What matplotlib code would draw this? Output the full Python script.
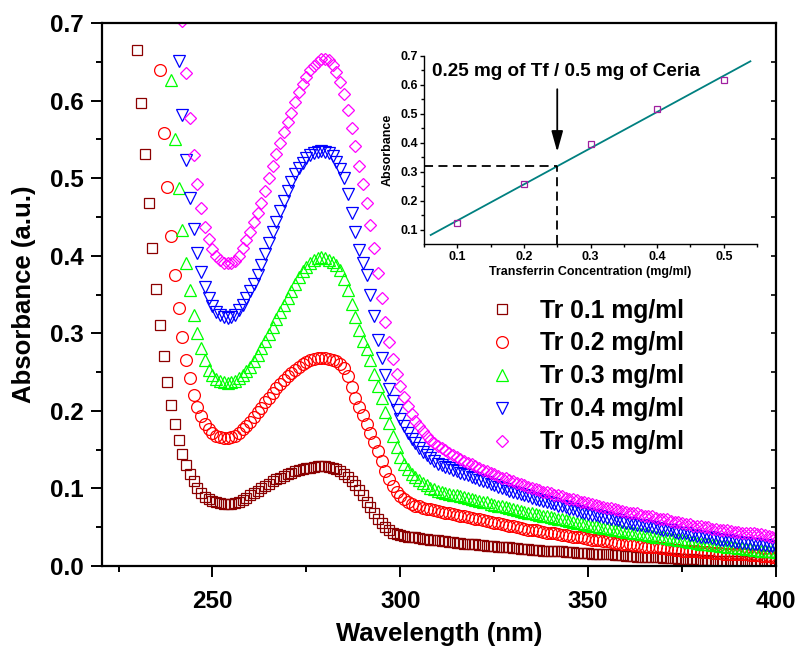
import numpy as np
import matplotlib
matplotlib.use('Agg')
import matplotlib.pyplot as plt

plt.rcParams['font.family'] = ['Liberation Sans', 'DejaVu Sans']
plt.rcParams['font.weight'] = 'bold'

# ---- UV-vis spectra (absorbance per nm) ----
labels = ['Tr 0.1 mg/ml', 'Tr 0.2 mg/ml', 'Tr 0.3 mg/ml', 'Tr 0.4 mg/ml', 'Tr 0.5 mg/ml']
start_nm = [230, 236, 239, 241, 242]

tr01 = [.665, .597, .531, .468, .410, .357, .311, .271, .237, .207,
        .183, .162, .145, .130, .119, .109, .100, .094, .089, .086,
        .084, .082, .081, .080, .080, .080, .081, .083, .085, .088,
        .091, .094, .097, .100, .103, .106, .109, .112, .114, .116,
        .118, .120, .122, .124, .125, .126, .127, .128, .129, .129,
        .129, .128, .127, .125, .122, .119, .115, .110, .104, .098,
        .091, .083, .076, .068, .061, .055, .050, .046, .043, .041,
        .040, .039, .038, .037, .037, .036, .035, .035, .034, .033,
        .033, .032, .032, .031, .031, .030, .030, .029, .029, .028,
        .028, .027, .027, .026, .026, .026, .025, .025, .024, .024,
        .023, .023, .022, .022, .022, .021, .021, .021, .020, .020,
        .020, .019, .019, .019, .018, .018, .018, .017, .017, .017,
        .017, .016, .016, .016, .015, .015, .015, .014, .014, .014,
        .013, .013, .013, .012, .012, .012, .011, .011, .011, .011,
        .010, .010, .010, .010, .009, .009, .009, .009, .009, .008,
        .008, .008, .008, .007, .007, .007, .007, .007, .006, .006,
        .006, .006, .006, .006, .006, .005, .005, .005, .005, .005,
        .005]

tr02 = [.639, .558, .488, .426,
        .375, .332, .295, .265, .242, .220, .205, .193, .183, .176,
        .171, .168, .166, .165, .165, .166, .168, .172, .176, .181,
        .186, .192, .198, .204, .211, .217, .223, .229, .235, .240,
        .245, .249, .253, .257, .260, .263, .265, .267, .268, .268,
        .268, .267, .266, .264, .261, .255, .245, .231, .217, .205,
        .195, .183, .171, .160, .148, .135, .122, .112, .103, .096,
        .090, .086, .083, .080, .078, .077, .075, .074, .073, .072,
        .071, .070, .069, .068, .067, .066, .065, .064, .063, .062,
        .061, .060, .059, .058, .057, .056, .055, .054, .053, .052,
        .051, .050, .049, .048, .047, .046, .046, .045, .044, .043,
        .043, .042, .041, .040, .040, .039, .038, .037, .037, .036,
        .035, .034, .034, .033, .032, .032, .031, .030, .030, .029,
        .028, .028, .027, .027, .026, .025, .025, .024, .024, .023,
        .023, .022, .022, .021, .021, .020, .020, .019, .019, .019,
        .018, .018, .018, .017, .017, .017, .016, .016, .016, .015,
        .015, .015, .015, .014, .014, .014, .013, .013, .013, .012,
        .012]

tr03 = [.626,
        .551, .487, .433, .390, .356, .323, .300, .281, .265, .253,
        .246, .241, .238, .237, .236, .237, .239, .242, .246, .251,
        .257, .264, .272, .281, .290, .299, .308, .318, .328, .337,
        .346, .355, .364, .372, .380, .386, .391, .395, .397, .398,
        .397, .395, .392, .388, .381, .370, .356, .338, .321, .304,
        .290, .280, .266, .248, .232, .216, .199, .184, .168, .153,
        .141, .132, .125, .119, .115, .111, .107, .104, .101, .099,
        .097, .096, .094, .093, .092, .091, .090, .089, .088, .087,
        .085, .084, .083, .082, .080, .079, .078, .077, .076, .075,
        .074, .072, .071, .070, .069, .068, .067, .066, .065, .064,
        .063, .062, .061, .060, .059, .058, .057, .056, .055, .054,
        .053, .052, .051, .050, .049, .049, .048, .047, .046, .045,
        .044, .044, .043, .042, .041, .041, .040, .039, .038, .038,
        .037, .036, .035, .035, .034, .033, .032, .031, .031, .030,
        .029, .029, .028, .027, .027, .026, .026, .025, .025, .024,
        .023, .023, .022, .022, .021, .021, .020, .020, .019, .019,
        .018]

tr04 = [.651, .581, .523, .474, .435, .403, .379, .360, .346,
        .335, .328, .324, .321, .320, .321, .324, .330, .337, .345,
        .354, .364, .375, .388, .402, .416, .430, .444, .458, .471,
        .484, .495, .505, .513, .520, .526, .530, .533, .534, .535,
        .534, .532, .528, .521, .512, .500, .480, .455, .430, .408,
        .390, .375, .350, .322, .292, .268, .246, .228, .213, .201,
        .190, .181, .172, .164, .158, .152, .147, .143, .139, .135,
        .132, .130, .128, .126, .124, .122, .120, .118, .117, .115,
        .113, .111, .110, .108, .106, .104, .102, .101, .099, .097,
        .096, .094, .093, .091, .090, .088, .087, .085, .084, .082,
        .081, .080, .078, .077, .076, .074, .073, .071, .070, .069,
        .067, .066, .066, .064, .063, .062, .061, .060, .059, .057,
        .056, .056, .054, .053, .053, .052, .051, .050, .049, .048,
        .047, .046, .046, .044, .043, .042, .042, .040, .040, .039,
        .038, .037, .037, .036, .035, .034, .034, .033, .032, .031,
        .031, .030, .030, .029, .029, .028, .027, .027, .026, .026,
        .025]

tr05 = [.703, .635, .577, .530, .492, .461, .437, .421,
        .409, .400, .394, .391, .390, .391, .393, .400, .410, .420,
        .431, .443, .455, .468, .484, .500, .516, .531, .545, .559,
        .572, .584, .598, .611, .622, .631, .639, .645, .650, .653,
        .654, .652, .646, .637, .624, .608, .588, .565, .541, .516,
        .492, .468, .440, .410, .378, .345, .315, .289, .267, .248,
        .232, .218, .206, .196, .187, .180, .174, .168, .163, .159,
        .155, .152, .149, .146, .143, .141, .138, .136, .133, .131,
        .129, .127, .124, .122, .120, .118, .116, .114, .113, .111,
        .109, .107, .106, .104, .102, .101, .099, .098, .096, .095,
        .094, .092, .091, .090, .088, .087, .086, .085, .083, .082,
        .081, .080, .079, .077, .076, .075, .075, .073, .072, .071,
        .070, .069, .068, .068, .066, .065, .064, .064, .062, .061,
        .060, .060, .058, .057, .057, .055, .054, .054, .052, .052,
        .051, .050, .050, .048, .048, .047, .046, .046, .045, .044,
        .044, .043, .043, .042, .042, .041, .041, .040, .039, .038,
        .038]

spectra = [tr01, tr02, tr03, tr04, tr05]

# ---- inset: calibration ----
conc = [0.1, 0.2, 0.3, 0.4, 0.5]
conc_abs = [0.123, 0.257, 0.397, 0.517, 0.617]
tf_loaded = 0.25

colors = ['#8B0000', '#FF0000', '#00FF00', '#0000FF', '#FF00FF']
markers = ['s', 'o', '^', 'v', 'D']
msizes = [7, 8.5, 8.5, 8.5, 6.3]

fig = plt.figure(figsize=(7.99, 6.48), dpi=100)
ax = fig.add_axes([0.1277, 0.1265, 0.8436, 0.838])

for vals, s, c, m, ms, lab in zip(spectra, start_nm, colors, markers, msizes, labels):
    wl = np.arange(s, s + len(vals))
    ax.plot(wl, vals, linestyle='none', marker=m, ms=ms, mfc='none', mec=c,
            mew=0.9, label=lab)

ax.set_xlim(220.6, 400)
ax.set_ylim(0, 0.7)
ax.set_xticks([250, 300, 350, 400])
ax.set_xticks([225, 275, 325, 375], minor=True)
ax.set_yticks(np.arange(0, 0.71, 0.1))
ax.set_yticks(np.arange(0.05, 0.7, 0.1), minor=True)
ax.set_yticklabels(['%.1f' % v for v in np.arange(0, 0.71, 0.1)])
ax.tick_params(which='major', direction='out', length=8, width=1.4,
               labelsize=17.5)
ax.tick_params(axis='x', which='major', pad=9)
ax.tick_params(axis='y', which='major', pad=5)
ax.tick_params(which='minor', direction='out', length=4.5, width=1.4)
for sp in ax.spines.values():
    sp.set_linewidth(1.6)
ax.set_xlabel('Wavelength (nm)', fontsize=18.5, fontweight='bold', labelpad=7)
ax.set_ylabel('Absorbance (a.u.)', fontsize=18.5, fontweight='bold', labelpad=10)

# inward ticks on the right spine
axr = ax.twinx()
axr.set_ylim(0, 0.7)
axr.set_yticks(np.arange(0, 0.71, 0.1))
axr.set_yticks(np.arange(0.05, 0.7, 0.1), minor=True)
axr.tick_params(which='both', direction='in', length=3.5, width=1.2,
                labelright=False)
for sp in axr.spines.values():
    sp.set_visible(False)

leg = ax.legend(loc='upper left', bbox_to_anchor=(0.5757, 0.4925), frameon=False,
                handlelength=1.0, handletextpad=1.02,
                labelspacing=0.36, borderpad=0, borderaxespad=0, numpoints=1,
                prop={'weight': 'bold', 'size': 17.8})

# ---- inset ----
axi = fig.add_axes([0.5307, 0.6227, 0.4168, 0.2909])
axi.patch.set_alpha(0)
slope, icpt = np.polyfit(conc, conc_abs, 1)
xfit = np.array([0.06, 0.54])
axi.plot(xfit, slope * xfit + icpt, color='#008080', lw=1.3)
axi.plot(conc, conc_abs, linestyle='none', marker='s', ms=4, mfc='none',
         mec='#A020A0', mew=0.9)
y_at = slope * tf_loaded + icpt
axi.plot([0.05, tf_loaded], [y_at, y_at], 'k--', lw=1.3, dashes=(5, 3))
axi.plot([tf_loaded, tf_loaded], [0.05, y_at], 'k--', lw=1.3, dashes=(5, 3))
axi.annotate('', xy=(tf_loaded, y_at + 0.04), xytext=(tf_loaded, 0.595),
             arrowprops=dict(arrowstyle='-|>,head_length=0.9,head_width=0.25',
                             color='k', lw=1.3, mutation_scale=14))
axi.text(0.263, 0.648, '0.25 mg of Tf / 0.5 mg of Ceria', ha='center',
         va='center', fontsize=13.6, fontweight='bold')

axi.set_xlim(0.05, 0.55)
axi.set_ylim(0.05, 0.7)
axi.set_xticks([0.1, 0.2, 0.3, 0.4, 0.5])
axi.set_xticks(np.arange(0.05, 0.56, 0.1), minor=True)
axi.set_yticks([0.1, 0.2, 0.3, 0.4, 0.5, 0.6, 0.7])
axi.set_yticks(np.arange(0.15, 0.7, 0.1), minor=True)
axi.spines['top'].set_visible(False)
axi.spines['right'].set_visible(False)
for sp in ['left', 'bottom']:
    axi.spines[sp].set_linewidth(1.0)
axi.tick_params(which='major', direction='out', length=3, width=1.0,
                labelsize=9, pad=1.5)
axi.tick_params(which='minor', direction='out', length=2, width=1.0)
axi.set_xlabel('Transferrin Concentration (mg/ml)', fontsize=9,
               fontweight='bold', labelpad=2)
axi.set_ylabel('Absorbance', fontsize=9, fontweight='bold', labelpad=5)

fig.savefig('out.png', dpi=100)
